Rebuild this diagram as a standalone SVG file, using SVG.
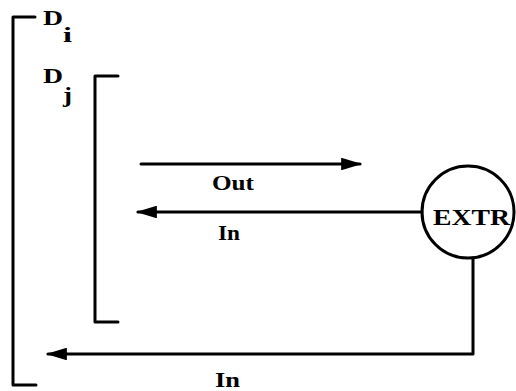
<svg xmlns="http://www.w3.org/2000/svg" width="516" height="391" viewBox="0 0 516 391">
<style>
.ln{fill:none;stroke:#000;stroke-width:3;stroke-linecap:round;stroke-linejoin:round}
.t{font-family:"Liberation Serif",serif;font-weight:bold;font-size:21px;fill:#000}
.s{font-family:"Liberation Serif",serif;font-weight:bold;font-size:20px;fill:#000}
</style>
<defs>
<marker id="ah" viewBox="0 0 20 12" refX="18" refY="6" markerWidth="7" markerHeight="4.2" markerUnits="strokeWidth" orient="auto">
<path d="M0,0 L20,6 L0,12 z" fill="#000"/>
</marker>
</defs>
<g id="Di">
<path class="ln" d="M35,17 L13,17 L13,385 L36,385"/>
<text class="t" x="43" y="25" textLength="20" lengthAdjust="spacingAndGlyphs">D</text><text class="s" x="63" y="42" textLength="9" lengthAdjust="spacingAndGlyphs">i</text>
</g>
<g id="Dj">
<path class="ln" d="M118,76 L95,76 L95,322 L118,322"/>
<text class="t" x="43" y="83" textLength="20" lengthAdjust="spacingAndGlyphs">D</text><text class="s" x="63" y="102" textLength="9" lengthAdjust="spacingAndGlyphs">j</text>
</g>
<g id="EXTR">
<circle cx="468" cy="212" r="46" fill="#fff" stroke="#000" stroke-width="3"/>
<text class="t" x="433" y="225" style="font-size:24px" textLength="77" lengthAdjust="spacingAndGlyphs">EXTR</text>
</g>
<g id="connectors">
<line class="ln" x1="141" y1="164" x2="360" y2="164" marker-end="url(#ah)"/>
<line class="ln" x1="422" y1="212" x2="138" y2="212" marker-end="url(#ah)"/>
<path class="ln" d="M473,258 L473,354 L48,354" marker-end="url(#ah)"/>
</g>
<text class="t" x="212" y="190" textLength="42" lengthAdjust="spacingAndGlyphs">Out</text>
<text class="t" x="218" y="240" textLength="22" lengthAdjust="spacingAndGlyphs">In</text>
<text class="t" x="215" y="387" textLength="25" lengthAdjust="spacingAndGlyphs">In</text>
</svg>
